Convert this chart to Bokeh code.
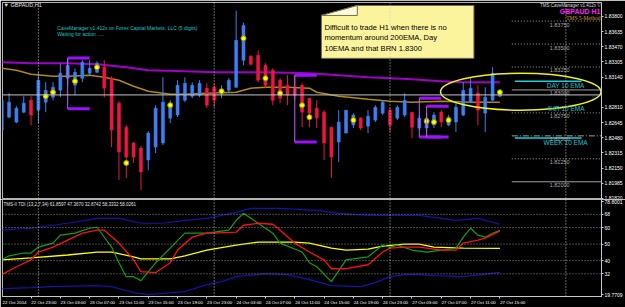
from bokeh.plotting import figure
from bokeh.layouts import column
from bokeh.models import ColumnDataSource, Range1d, FixedTicker, PrintfTickFormatter, Span, Label
from bokeh.embed import file_html
from bokeh.resources import INLINE

# ---------------- data ----------------
time_tick_bars = [0, 4, 8, 12, 16, 20, 24, 28, 32, 36, 40, 44, 48, 52, 56, 60, 64, 68]
time_tick_labels = ["22 Oct 2014", "22 Oct 23:00", "23 Oct 03:00", "23 Oct 07:00",
                    "23 Oct 11:00", "23 Oct 15:00", "23 Oct 19:00", "23 Oct 23:00",
                    "24 Oct 03:00", "24 Oct 07:00", "24 Oct 11:00", "24 Oct 15:00",
                    "24 Oct 19:00", "24 Oct 23:00", "27 Oct 03:00", "27 Oct 07:00",
                    "27 Oct 11:00", "27 Oct 15:00"]
day_start_bars = [5, 29, 53, 77]

opens = [1.82563, 1.82704, 1.82650, 1.82758, 1.82889, 1.82780, 1.82867, 1.82921, 1.82997, 1.83127,
         1.83051, 1.83127, 1.83182, 1.83192, 1.83247, 1.83127, 1.82856, 1.82595, 1.82422, 1.82367,
         1.82237, 1.82378, 1.82422, 1.82693, 1.82726, 1.82889, 1.82932, 1.82943, 1.83019, 1.83030,
         1.82964, 1.82997, 1.83030, 1.83323, 1.83366, 1.83377, 1.83268, 1.83214, 1.83106, 1.83051,
         1.83019, 1.83051, 1.82910, 1.82802, 1.82758, 1.82595, 1.82433, 1.82530, 1.82617, 1.82693,
         1.82606, 1.82671, 1.82747, 1.82780, 1.82693, 1.82726, 1.82758, 1.82585, 1.82585, 1.82617,
         1.82758, 1.82617, 1.82650, 1.82726, 1.82867, 1.82964, 1.82747, 1.82889, 1.82932]
highs = [1.82921, 1.82964, 1.82823, 1.82932, 1.82932, 1.83192, 1.83084, 1.83084, 1.83290, 1.83344,
         1.83236, 1.83323, 1.83323, 1.83312, 1.83323, 1.83149, 1.82878, 1.82617, 1.82433, 1.82389,
         1.82552, 1.82834, 1.83138, 1.82889, 1.83106, 1.83138, 1.83084, 1.83106, 1.83073, 1.83073,
         1.83051, 1.83127, 1.83865, 1.83735, 1.83377, 1.83431, 1.83290, 1.83236, 1.83127, 1.83160,
         1.83160, 1.83073, 1.82910, 1.82889, 1.82780, 1.82595, 1.82780, 1.82780, 1.82747, 1.82704,
         1.82780, 1.82834, 1.82889, 1.82802, 1.82834, 1.82964, 1.82758, 1.82726, 1.82747, 1.82758,
         1.82780, 1.82726, 1.82856, 1.83084, 1.83127, 1.83051, 1.83030, 1.83247, 1.82997]
lows = [1.82541, 1.82693, 1.82639, 1.82747, 1.82617, 1.82639, 1.82758, 1.82889, 1.82921, 1.83051,
        1.82943, 1.83084, 1.83160, 1.83182, 1.82921, 1.82378, 1.82020, 1.82042, 1.82205, 1.81912,
        1.82129, 1.82313, 1.82400, 1.82639, 1.82704, 1.82867, 1.82910, 1.82921, 1.82802, 1.82813,
        1.82910, 1.82975, 1.83019, 1.83268, 1.83268, 1.83084, 1.83019, 1.82834, 1.82856, 1.82834,
        1.82889, 1.82595, 1.82595, 1.82585, 1.82237, 1.82042, 1.82216, 1.82530, 1.82585, 1.82563,
        1.82530, 1.82650, 1.82726, 1.82541, 1.82671, 1.82704, 1.82476, 1.82563, 1.82541, 1.82585,
        1.82595, 1.82606, 1.82541, 1.82715, 1.82856, 1.82617, 1.82541, 1.82878, 1.82921]
closes = [1.82889, 1.82867, 1.82802, 1.82856, 1.82726, 1.83106, 1.82997, 1.83030, 1.83182, 1.83268,
          1.83192, 1.83301, 1.83236, 1.83290, 1.83019, 1.82563, 1.82324, 1.82270, 1.82270, 1.82107,
          1.82530, 1.82802, 1.82867, 1.82856, 1.83051, 1.83073, 1.83051, 1.83073, 1.82834, 1.82889,
          1.83008, 1.83106, 1.83540, 1.83703, 1.83279, 1.83106, 1.83051, 1.82889, 1.82910, 1.82943,
          1.82943, 1.82758, 1.82747, 1.82693, 1.82422, 1.82270, 1.82650, 1.82780, 1.82726, 1.82585,
          1.82715, 1.82813, 1.82867, 1.82617, 1.82813, 1.82889, 1.82595, 1.82693, 1.82693, 1.82726,
          1.82650, 1.82704, 1.82813, 1.82997, 1.83019, 1.82780, 1.82921, 1.83182, 1.82946]

ema200_bars = [0, 4, 9, 13, 17, 20, 25, 29, 36, 42, 46, 50, 53, 56, 60, 63, 68]
ema200 = [1.83301, 1.83290, 1.83290, 1.83279, 1.83247, 1.83214, 1.83203, 1.83192, 1.83192,
          1.83182, 1.83160, 1.83138, 1.83127, 1.83116, 1.83095, 1.83084, 1.83084]
ema_fast_bars = [0, 2, 4, 7, 9, 12, 14, 16, 18, 20, 23, 25, 28, 32, 34, 36, 39, 42, 43, 46,
                 50, 53, 56, 60, 64, 68]
ema_fast = [1.83236, 1.83214, 1.83171, 1.83149, 1.83149, 1.83160, 1.83138, 1.83106, 1.83040,
            1.82986, 1.82954, 1.82954, 1.82964, 1.82975, 1.83019, 1.83030, 1.83030, 1.83019,
            1.82975, 1.82932, 1.82899, 1.82878, 1.82867, 1.82878, 1.82867, 1.82867]

signal_bars = [6, 7, 10, 13, 17, 23, 30, 33, 36, 38, 41, 42, 48, 58, 59, 61, 68]
signal_price = [1.82932, 1.82975, 1.83095, 1.83247, 1.82205, 1.82834, 1.82986, 1.83562, 1.83127,
                1.82964, 1.82834, 1.82704, 1.82671, 1.82660, 1.82650, 1.82671, 1.82975]

box_left = [9, 40, 57, 58]
box_right = [12, 43, 60, 61]
box_top = [1.83348, 1.83160, 1.82910, 1.82823]
box_bottom = [1.82794, 1.82433, 1.82487, 1.82487]

current_price = 1.82946
price_ticks = [1.83800, 1.83635, 1.83470, 1.83305, 1.83140, 1.82810, 1.82645,
               1.82480, 1.82315, 1.82150, 1.81985, 1.81820]
round_levels = [1.8375, 1.8350, 1.8325, 1.8300, 1.8275, 1.8250, 1.8225, 1.8200]
ema_level_names = ["DAY 10 EMA", "4HR 10 EMA", "WEEK 10 EMA"]
ema_level_values = [1.83095, 1.82845, 1.82476]

tdi_levels = [68, 60, 50, 40, 32]
tdi_top_value, tdi_top_text = 76.0, "78.8001"
tdi_bottom_value, tdi_bottom_text = 19.4, "19.7709"
tdi_header = "TMS-II TDI (13,2,7,34) 61.8597 47.3670 32.8742 58.3332 58.0261"

upper_bars = [0, 4, 9, 13, 16, 19, 22, 25, 28, 30, 32, 34, 38, 43, 46, 50, 53, 57, 59, 62, 65, 67, 68]
upper_band = [58.4, 59.6, 62.6, 65.6, 65.6, 62.6, 62.6, 64.4, 65.6, 67.4, 69.2, 71.6, 71.6, 70.4,
              68.6, 67.4, 67.4, 67.4, 66.2, 64.4, 65.6, 63.2, 61.9]
lower_bars = [0, 4, 7, 13, 15, 18, 20, 25, 28, 30, 32, 36, 39, 42, 45, 49, 51, 53, 55, 57, 59, 63, 68]
lower_band = [23.1, 23.7, 24.3, 24.9, 24.3, 20.7, 19.5, 21.3, 25.5, 27.3, 30.3, 32.1, 31.5, 28.5,
              24.9, 24.3, 26.7, 30.3, 31.5, 31.5, 30.9, 30.3, 32.9]
base_bars = [0, 4, 9, 13, 15, 18, 19, 23, 25, 28, 32, 35, 40, 42, 45, 47, 50, 52, 55, 57, 59, 63, 68]
base_line = [40.5, 41.7, 43.4, 45.2, 45.2, 42.3, 41.1, 41.1, 42.9, 46.4, 49.4, 51.2, 51.2, 50.6,
             47.6, 46.4, 47.0, 48.8, 50.0, 50.0, 48.2, 47.6, 47.4]
rsi_bars = [0, 1, 3, 4, 5, 7, 8, 10, 12, 13, 15, 16, 17, 18, 19, 21, 23, 25, 27, 28, 31, 32, 33,
            35, 37, 38, 41, 42, 43, 45, 47, 50, 52, 53, 54, 56, 58, 60, 62, 63, 64, 65, 66, 67, 68]
rsi_line = [40.5, 42.9, 44.6, 44.6, 48.2, 50.6, 55.4, 56.6, 59.6, 60.2, 48.2, 38.7, 30.3, 30.3,
            27.9, 38.7, 47.6, 56.6, 56.6, 56.6, 58.4, 64.4, 68.6, 62.6, 56.6, 50.6, 45.2, 38.7,
            36.3, 27.3, 40.5, 42.3, 49.4, 48.2, 49.4, 46.4, 45.2, 46.4, 47.6, 54.2, 59.6, 55.4,
            54.2, 56.6, 58.3]
signal_bars_tdi = [0, 2, 4, 5, 7, 9, 11, 13, 14, 16, 18, 19, 21, 23, 24, 26, 28, 29, 32, 33, 35,
                   37, 38, 40, 42, 44, 45, 47, 50, 52, 53, 55, 57, 58, 60, 62, 63, 65, 66, 68]
signal_line = [31.5, 36.3, 40.5, 45.2, 48.2, 52.4, 56.6, 58.4, 58.4, 50.6, 40.5, 33.3, 32.7, 38.7,
               46.4, 54.2, 56.6, 56.6, 57.2, 61.4, 62.6, 62.0, 58.4, 50.6, 45.2, 40.5, 35.1, 35.1,
               37.5, 45.2, 47.6, 48.2, 48.2, 47.6, 46.4, 46.4, 50.6, 52.4, 53.6, 58.0]

# ---------------- helpers for placing annotations (reference pixels) ----------------
PX_BAR, X0 = 7.35, 1.25
P_TOP, P_PX = 1.83974, 0.00010855


def bx(px):
    return (px - X0) / PX_BAR


def py(pix):
    return P_TOP - pix * P_PX


def vy(pix):
    return 68 - (pix - 214) / 1.67


FONT = "Liberation Sans"
RB = 22
xr = Range1d(bx(2), bx(625 - RB))

# ---------------- main price panel ----------------
p = figure(width=625, height=199, x_range=xr, y_range=Range1d(1.81818, py(2)),
           output_backend="svg", toolbar_location=None, y_axis_location="right",
           min_border_left=2, min_border_right=RB, min_border_top=2, min_border_bottom=1,
           background_fill_color="black", border_fill_color="black",
           outline_line_color="#b4b4b4")
p.xaxis.visible = False
p.grid.visible = False
ya = p.yaxis[0]
ya.ticker = FixedTicker(ticks=price_ticks)
ya.formatter = PrintfTickFormatter(format="%.5f")
ya.major_label_text_font_size = "5px"
ya.major_label_text_font = FONT
ya.major_label_text_color = "white"
ya.axis_line_color = "#c8c8c8"
ya.major_tick_line_color = "#c8c8c8"
ya.major_tick_out = 2
ya.major_tick_in = 0
ya.minor_tick_line_color = None
ya.major_label_standoff = 1

for b in day_start_bars:
    p.add_layout(Span(location=b, dimension="height", line_color="#c8c8c8",
                      line_dash="1 2", line_width=1))

# round-number levels on the right side
x_lev0, x_lev1 = bx(513), bx(625 - RB)
lev_styles = {1.8300: ("solid", "#a0a0a0"), 1.8200: ("solid", "#a0a0a0"),
              1.8250: ("6 2 1 2", "#a0a0a0")}
for lev in round_levels:
    dash, colr = lev_styles.get(round(lev, 4), ("1 2", "#a0a0a0"))
    p.segment(x0=[x_lev0], x1=[x_lev1], y0=[lev], y1=[lev], line_color=colr,
              line_dash=dash, line_width=1)
    lpx = (P_TOP - lev) / P_PX
    p.add_layout(Label(x=bx(561), y=py(lpx + 3.5), text="%.5f" % lev, text_align="center",
                       text_baseline="middle", text_font_size="5.5px", text_font=FONT,
                       text_color="#a8a8a8"))

p.add_layout(Span(location=current_price, dimension="width", line_color="#c4c4c4", line_width=1))

# moving averages
p.line(ema200_bars, ema200, line_color="#a000c8", line_width=2)
p.line(ema_fast_bars, ema_fast, line_color="#b08a0a", line_width=1.5)

# candles
idx = list(range(len(opens)))
cols = ["#3f7ff2" if c >= o else "#ee1641" for o, c in zip(opens, closes)]
src = ColumnDataSource(dict(x=idx, h=highs, l=lows,
                            top=[max(o, c) for o, c in zip(opens, closes)],
                            bot=[min(o, c) for o, c in zip(opens, closes)], col=cols))
p.segment(x0="x", y0="h", x1="x", y1="l", line_color="col", line_width=1, source=src)
p.vbar(x="x", width=0.42, top="top", bottom="bot", fill_color="col", line_color="col",
       line_width=0.5, source=src)

# signal dots
p.scatter(signal_bars, signal_price, size=5, marker="circle", fill_color="#ffff00",
          line_color="#9a9a00", line_width=1)

# purple brackets
p.segment(x0=box_left, x1=box_right, y0=box_top, y1=box_top, line_color="#9c10ff", line_width=3)
p.segment(x0=box_left, x1=box_right, y0=box_bottom, y1=box_bottom, line_color="#9c10ff", line_width=3)
p.segment(x0=box_left, x1=box_left, y0=box_top, y1=box_bottom, line_color="#c060ff", line_width=1)

# EMA level markers
ema_line_shown = [True, False, True]
for name, val, shown in zip(ema_level_names, ema_level_values, ema_line_shown):
    if shown:
        p.segment(x0=[bx(516)], x1=[bx(583)], y0=[val], y1=[val], line_color="#18d0e0", line_width=1.5)
    lpx = (P_TOP - val) / P_PX
    p.add_layout(Label(x=bx(567), y=py(lpx + 4), text=name, text_align="center",
                       text_baseline="middle", text_font_size="6.5px", text_font=FONT,
                       text_color="#20c0d0"))

# highlight ellipse
p.ellipse(x=[bx(522)], y=[py(91.5)], width=[161 / PX_BAR], height=[37 * P_PX],
          fill_alpha=0, line_color="#f0f020", line_width=1.5)

# sticky note
p.patch([bx(358), bx(475), bx(475), bx(322), bx(322)], [py(5), py(5), py(58), py(58), py(15)],
        fill_color="#fbf49c", line_color="#707050", line_width=1)
p.patch([bx(322), bx(358), bx(358)], [py(15), py(15), py(5)],
        fill_color="#fffbd8", line_color="#707050", line_width=1)
note_lines = ["Difficult to trade H1 when there is no", "momentum around 200EMA, Day",
              "10EMA and that BRN 1.8300"]
for k, t in enumerate(note_lines):
    p.add_layout(Label(x=bx(325), y=py(27 + 10.6 * k), text=t, text_baseline="middle",
                       text_font_size="7.6px", text_font=FONT, text_color="black"))

# texts
p.add_layout(Label(x=bx(3), y=py(5), text="\u25bc GBPAUD,H1", text_baseline="middle",
                   text_font_size="5.5px", text_font=FONT, text_color="#e0e0e0"))
p.add_layout(Label(x=bx(57), y=py(28), text="CaveManager v1.412x on Forex Capital Markets, LLC (5 digits)",
                   text_baseline="middle", text_font_size="5px", text_font=FONT, text_color="#10c8c8"))
p.add_layout(Label(x=bx(57), y=py(34), text="Waiting for action .....",
                   text_baseline="middle", text_font_size="5px", text_font=FONT, text_color="#10c8c8"))
p.add_layout(Label(x=bx(602), y=py(5), text="TMS CaveManager v1.412x \u00a9", text_align="right",
                   text_baseline="middle", text_font_size="4.5px", text_font=FONT, text_color="#d8d8d8"))
p.add_layout(Label(x=bx(602), y=py(11.5), text="GBPAUD H1", text_align="right",
                   text_baseline="middle", text_font_size="7px", text_font=FONT,
                   text_font_style="bold", text_color="#ff20ff"))
p.add_layout(Label(x=bx(602), y=py(18), text="TMS 5-Method", text_align="right",
                   text_baseline="middle", text_font_size="5.5px", text_font="Liberation Serif",
                   text_color="#d0a010"))
p.add_layout(Label(x=bx(604), y=current_price, text="%.5f" % current_price, text_baseline="middle",
                   text_font_size="5px", text_font=FONT, text_color="black",
                   background_fill_color="#dcdcdc"))

# ---------------- TDI panel ----------------
q = figure(width=625, height=108, x_range=xr, y_range=Range1d(vy(297), vy(199)),
           output_backend="svg", toolbar_location=None, y_axis_location="right",
           min_border_left=2, min_border_right=RB, min_border_top=0, min_border_bottom=10,
           background_fill_color="black", border_fill_color="black",
           outline_line_color="#b4b4b4")
q.grid.visible = False
qa = q.yaxis[0]
qa.ticker = FixedTicker(ticks=[tdi_top_value] + tdi_levels + [tdi_bottom_value])
qa.major_label_overrides = {tdi_top_value: tdi_top_text, tdi_bottom_value: tdi_bottom_text}
qa.major_label_text_font_size = "5px"
qa.major_label_text_font = FONT
qa.major_label_text_color = "white"
qa.axis_line_color = "#c8c8c8"
qa.major_tick_line_color = "#c8c8c8"
qa.major_tick_out = 2
qa.major_tick_in = 0
qa.minor_tick_line_color = None
qa.major_label_standoff = 1

# time labels start at their bar (MT4 style): the label is centred a little to the right
LABEL_SHIFT = 1.75
label_pos = [b + LABEL_SHIFT for b in time_tick_bars]
xa = q.xaxis[0]
xa.ticker = FixedTicker(ticks=label_pos, minor_ticks=time_tick_bars)
xa.major_label_overrides = dict(zip(label_pos, time_tick_labels))
xa.major_label_text_font_size = "4.4px"
xa.major_label_text_font = FONT
xa.major_label_text_color = "white"
xa.axis_line_color = "#c8c8c8"
xa.major_tick_line_color = None
xa.major_tick_out = 2
xa.major_tick_in = 0
xa.minor_tick_line_color = "#c8c8c8"
xa.minor_tick_out = 2
xa.minor_tick_in = 0
xa.major_label_standoff = 1

for lev in tdi_levels:
    q.add_layout(Span(location=lev, dimension="width", line_color="#909090",
                      line_dash="1 2", line_width=1))
for b in day_start_bars:
    q.add_layout(Span(location=b, dimension="height", line_color="#c8c8c8",
                      line_dash="1 2", line_width=1))

q.line(upper_bars, upper_band, line_color="#1414a8", line_width=1.2)
q.line(lower_bars, lower_band, line_color="#1414a8", line_width=1.2)
q.line(base_bars, base_line, line_color="#ffff00", line_width=1.3)
q.line(rsi_bars, rsi_line, line_color="#10a010", line_width=1.2)
q.line(signal_bars_tdi, signal_line, line_color="#ff1010", line_width=1.3)

q.add_layout(Label(x=bx(3), y=vy(204), text=tdi_header, text_baseline="middle",
                   text_font_size="4.5px", text_font=FONT, text_color="#e0e0e0"))

layout = column(p, q, spacing=0)
open("out.html", "w").write(file_html(layout, INLINE))
